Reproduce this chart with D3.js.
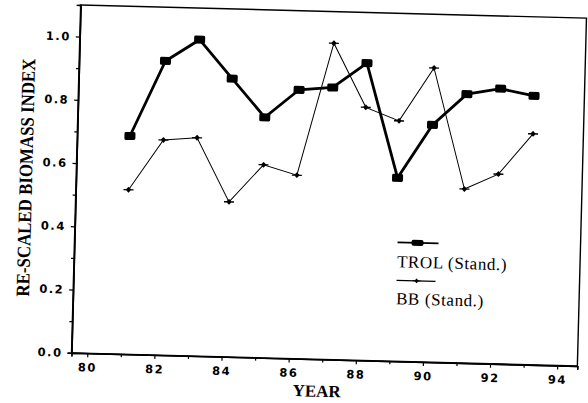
<!DOCTYPE html>
<html>
<head>
<meta charset="utf-8">
<script src="https://cdn.jsdelivr.net/npm/d3@7"></script>
<style>
  body { margin: 0; background: #fff; }
  svg { display: block; }
  .tick text { font-family: "DejaVu Sans", sans-serif; font-weight: bold; font-size: 11.5px; letter-spacing: 1.5px; }
</style>
</head>
<body>
<div id="chart"></div>
<script>
var width = 588;
var height = 403;
var plotLeft = 76, plotTop = 11.5, plotW = 506, plotH = 348;
var tilt = 1.5; // the scanned page is slightly rotated

// values
var years = [81.1, 82.1, 83.1, 84.1, 85.1, 86.1, 87.1, 88.1, 89.1, 90.1, 91.1, 92.1, 93.1];
var trolValues = [0.69, 0.93, 1.0, 0.88, 0.76, 0.85, 0.86, 0.94, 0.58, 0.75, 0.85, 0.87, 0.85];
var bbValues = [0.52, 0.68, 0.69, 0.49, 0.61, 0.58, 1.0, 0.8, 0.76, 0.93, 0.55, 0.6, 0.73];
var xTicks = [80, 82, 84, 86, 88, 90, 92, 94];
var yTicks = [0.0, 0.2, 0.4, 0.6, 0.8, 1.0];
var seriesNames = ["TROL (Stand.)", "BB (Stand.)"];

var svg = d3.select("#chart").append("svg")
    .attr("width", width)
    .attr("height", height);

var page = svg.append("g")
    .attr("transform", "rotate(" + tilt + "," + (plotLeft + plotW / 2) + "," + (plotTop + plotH / 2) + ")");

var g = page.append("g")
    .attr("transform", "translate(" + plotLeft + "," + plotTop + ")");

var x = d3.scaleLinear().domain([79.53, 94.6]).range([0, plotW]);
var y = d3.scaleLinear().domain([0, 1.1]).range([plotH, 0]);

// frame
g.append("rect")
    .attr("width", plotW)
    .attr("height", plotH)
    .attr("fill", "none")
    .attr("stroke", "#000")
    .attr("stroke-width", 1.4);

// x axis, major + minor ticks
var xAxis = g.append("g")
    .attr("transform", "translate(0," + plotH + ")")
    .call(d3.axisBottom(x).tickValues(xTicks).tickFormat(d3.format("d")).tickSize(4).tickPadding(6));
g.append("g")
    .attr("transform", "translate(0," + plotH + ")")
    .call(d3.axisBottom(x).tickValues(d3.range(81, 94, 2)).tickFormat("").tickSize(3));

var yAxis = g.append("g")
    .call(d3.axisLeft(y).tickValues(yTicks).tickFormat(d3.format(".1f")).tickSize(4).tickPadding(5));
g.append("g")
    .call(d3.axisLeft(y).tickValues([0.1, 0.3, 0.5, 0.7, 0.9]).tickFormat("").tickSize(3));

g.selectAll(".domain").attr("stroke-width", 1.4);
g.selectAll(".tick line").attr("stroke-width", 1.2);

var data = years.map(function(yr, i) {
  return { year: yr, trol: trolValues[i], bb: bbValues[i] };
});

var line = function(key) {
  return d3.line()
    .x(function(d) { return x(d.year); })
    .y(function(d) { return y(d[key]); });
};

// BB (thin line, small cross markers)
g.append("path")
    .datum(data)
    .attr("d", line("bb"))
    .attr("fill", "none")
    .attr("stroke", "#000")
    .attr("stroke-width", 1);

var bbMark = function(sel) {
  sel.append("path")
    .attr("d", "M-5,0 L5,0 M0,-2.5 L0,2.5 M-2,0 L0,-2 L2,0 L0,2 Z")
    .attr("stroke", "#000")
    .attr("stroke-width", 1.3)
    .attr("fill", "#000");
};

g.selectAll(".bb-pt")
    .data(data)
    .enter().append("g")
    .attr("class", "bb-pt")
    .attr("transform", function(d) { return "translate(" + x(d.year) + "," + y(d.bb) + ")"; })
    .call(bbMark);

// TROL (thick line, square markers)
g.append("path")
    .datum(data)
    .attr("d", line("trol"))
    .attr("fill", "none")
    .attr("stroke", "#000")
    .attr("stroke-width", 2.8);

g.selectAll(".trol-pt")
    .data(data)
    .enter().append("rect")
    .attr("class", "trol-pt")
    .attr("x", function(d) { return x(d.year) - 5.5; })
    .attr("y", function(d) { return y(d.trol) - 4; })
    .attr("width", 11)
    .attr("height", 8)
    .attr("rx", 1.5)
    .attr("fill", "#000");

// legend
var legend = g.append("g").attr("transform", "translate(323,229)");
legend.append("line")
    .attr("x1", 0).attr("x2", 41).attr("y1", 0).attr("y2", 0)
    .attr("stroke", "#000").attr("stroke-width", 1.8);
legend.append("rect")
    .attr("x", 14).attr("y", -3).attr("width", 12).attr("height", 6).attr("rx", 2)
    .attr("fill", "#000");
legend.append("text")
    .attr("x", 0).attr("y", 25)
    .attr("font-family", "Liberation Serif, serif")
    .attr("font-size", 17)
    .attr("letter-spacing", 0.6)
    .text(seriesNames[0]);

legend.append("line")
    .attr("x1", 0).attr("x2", 39).attr("y1", 38).attr("y2", 38)
    .attr("stroke", "#000").attr("stroke-width", 1.2);
legend.append("g")
    .attr("transform", "translate(20,38) scale(0.8)")
    .call(bbMark);
legend.append("text")
    .attr("x", 0).attr("y", 62)
    .attr("font-family", "Liberation Serif, serif")
    .attr("font-size", 17)
    .attr("letter-spacing", 0.6)
    .text(seriesNames[1]);

// axis titles
page.append("text")
    .attr("x", plotLeft + plotW / 2 - 7)
    .attr("y", 397)
    .attr("text-anchor", "middle")
    .attr("font-family", "Liberation Serif, serif")
    .attr("font-weight", "bold")
    .attr("font-size", 17)
    .text("YEAR");

page.append("text")
    .attr("transform", "translate(32," + (plotTop + plotH / 2) + ") rotate(-90)")
    .attr("text-anchor", "middle")
    .attr("font-family", "Liberation Serif, serif")
    .attr("font-weight", "bold")
    .attr("font-size", 19)
    .attr("textLength", 238)
    .attr("lengthAdjust", "spacingAndGlyphs")
    .text("RE-SCALED BIOMASS INDEX");
</script>
</body>
</html>
